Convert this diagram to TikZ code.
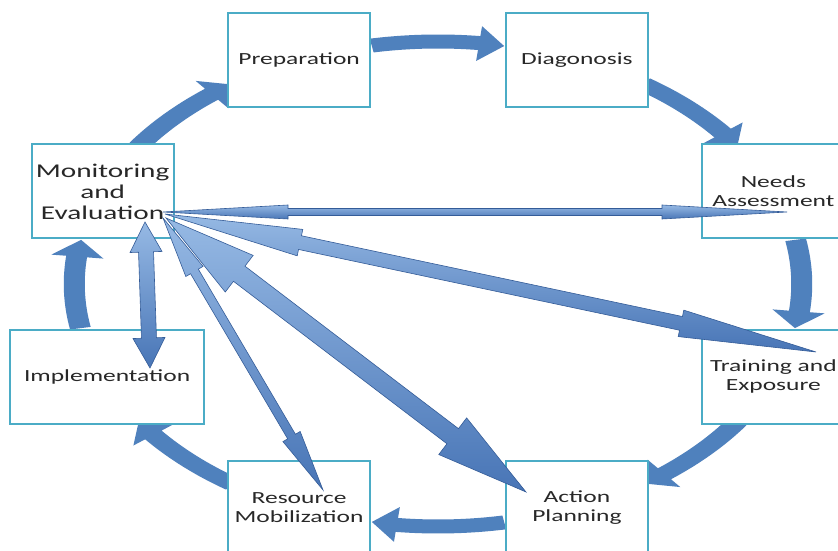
\documentclass[tikz,border=0pt]{standalone}
\usepackage{fontspec}
\setmainfont{Carlito}[FakeStretch=1.5]
\usetikzlibrary{calc}

\definecolor{cyc}{RGB}{79,129,189}
\definecolor{boxline}{RGB}{75,172,198}
\definecolor{radlight}{RGB}{150,185,228}
\definecolor{raddark}{RGB}{72,117,182}
\definecolor{radedge}{RGB}{52,92,152}
\definecolor{txt}{RGB}{40,40,40}

\tikzset{
  stage/.style={draw=boxline, line width=1.9pt, fill=white,
    minimum width=142pt, minimum height=94pt, inner sep=0pt,
    align=center, font=\fontsize{17}{19.5}\selectfont, text=txt},
  bigtext/.style={font=\fontsize{19.5}{21}\selectfont},
  cyclearrow/.style={fill=cyc},
  radial/.style={draw=radedge, line width=0.6pt, line join=miter,
    top color=radlight, bottom color=raddark},
}

% curved block arrow on the stage circle, from angle #1 clockwise to tip angle #2
\newcommand\cyclearc[2]{%
  \fill[cyclearrow] ({#1}:249.5) arc[start angle={#1}, end angle={#2+4}, radius=249.5]
    -- ({#2+4}:259.5) -- ({#2}:242) -- ({#2+4}:224.5) -- ({#2+4}:235.5)
    arc[start angle={#2+4}, end angle={#1}, radius=235.5] -- cycle;
}

% double-headed block arrow between two named points:
% #1 from, #2 to, #3 shaft half width, #4 head half width, #5 head length
\newcommand\linkarrow[5]{%
  \path let \p1=(#1), \p2=(#2) in \pgfextra{%
    \pgfmathsetmacro\la{atan2(\y2-\y1,\x2-\x1)}%
    \pgfmathsetmacro\ll{veclen(\x2-\x1,\y2-\y1)}%
    \xdef\linkang{\la}\xdef\linklen{\ll}};
  \draw[radial, shift={(#1)}, rotate=\linkang]
    (0,0) -- (#5,#4) -- (#5,#3) -- ({\linklen-#5},#3) -- ({\linklen-#5},#4)
    -- (\linklen,0) -- ({\linklen-#5},-#4) -- ({\linklen-#5},-#3)
    -- (#5,-#3) -- (#5,-#4) -- cycle;
}

\begin{document}
\begin{tikzpicture}[x=1pt, y=1pt]
  \useasboundingbox (0,0) rectangle (838,551);
  \fill[white] (0,0) rectangle (838,551);

  \begin{scope}[shift={(438,267)}, xscale=1.5]
    % cycle arrows between neighbouring stages
    \foreach \t in {90,45,0,-45,-90,-135,180,135}{
      \cyclearc{\t+10.5}{\t-10.5}
    }
    % stages
    \node[stage] (prep) at (112.5:242) {Preparation};
    \node[stage] (diag) at (67.5:242) {Diagonosis};
    \node[stage] (needs) at (22.5:242) {Needs\\Assessment};
    \node[stage] (train) at (-22.5:242) {Training and\\Exposure};
    \node[stage] (action) at (-67.5:242) {Action\\Planning};
    \node[stage] (resource) at (-112.5:242) {Resource\\Mobilization};
    \node[stage, minimum width=194pt, xshift=4.5pt] (impl) at (-157.5:242) {Implementation};
    \node[stage, bigtext] (monitor) at (157.5:242) {Monitoring\\and\\Evaluation};
  \end{scope}

  % end points of the links from Monitoring and Evaluation
  \coordinate (hubN) at (163,339);
  \coordinate (hubT) at (165,337);
  \coordinate (hubA) at (166,333);
  \coordinate (hubR) at (163,333);
  \coordinate (hubI) at (145,329);
  \coordinate (endN) at (787,339);
  \coordinate (endT) at (816,199);
  \coordinate (endA) at (526,59);
  \coordinate (endR) at (323,61);
  \coordinate (endI) at (150,183);

  \linkarrow{hubR}{endR}{4.5}{10}{62}
  \linkarrow{hubA}{endA}{9.5}{23}{92}
  \linkarrow{hubT}{endT}{7}{13.5}{138}
  \linkarrow{hubN}{endN}{3.5}{7}{125}
  \linkarrow{hubI}{endI}{7.5}{16}{30}
\end{tikzpicture}
\end{document}
